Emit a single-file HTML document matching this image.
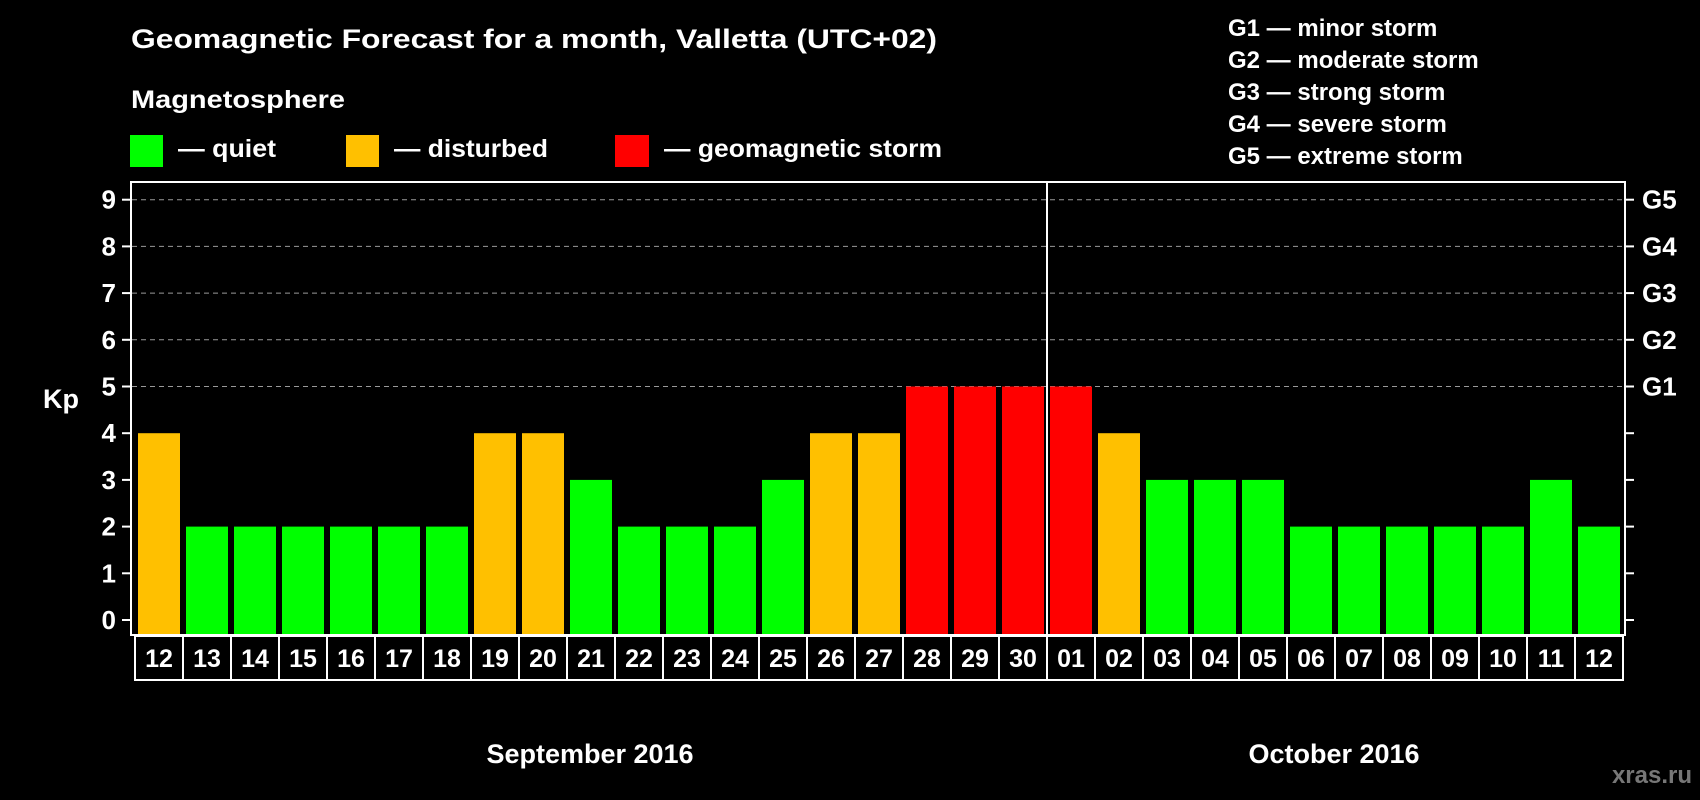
<!DOCTYPE html>
<html><head><meta charset="utf-8"><style>
html,body{margin:0;padding:0;background:#000;}
svg{display:block;font-family:"Liberation Sans",Arial,sans-serif;font-weight:bold;}
</style></head><body>
<svg id="chart" width="1700" height="800" viewBox="0 0 1700 800" xmlns="http://www.w3.org/2000/svg">
<rect width="1700" height="800" fill="#000"/>
<text x="131" y="48" fill="#fff" font-size="27" textLength="806" lengthAdjust="spacingAndGlyphs">Geomagnetic Forecast for a month, Valletta (UTC+02)</text>
<text x="131" y="108" fill="#fff" font-size="25" textLength="214" lengthAdjust="spacingAndGlyphs">Magnetosphere</text>
<g>
<rect x="130" y="135" width="33" height="32" fill="#00ff00"/>
<text x="178" y="157" fill="#fff" font-size="25" textLength="98" lengthAdjust="spacingAndGlyphs">— quiet</text></g>
<g>
<rect x="346" y="135" width="33" height="32" fill="#ffc000"/>
<text x="394" y="157" fill="#fff" font-size="25" textLength="154" lengthAdjust="spacingAndGlyphs">— disturbed</text></g>
<g>
<rect x="615" y="135" width="34" height="32" fill="#ff0000"/>
<text x="664" y="157" fill="#fff" font-size="25" textLength="278" lengthAdjust="spacingAndGlyphs">— geomagnetic storm</text></g>
<g fill="#fff" font-size="24">
<text x="1228" y="36">G1 — minor storm</text>
<text x="1228" y="68">G2 — moderate storm</text>
<text x="1228" y="100">G3 — strong storm</text>
<text x="1228" y="132">G4 — severe storm</text>
<text x="1228" y="164">G5 — extreme storm</text>
</g>
<g id="grid"></g>
<g id="bars"></g>
<rect x="131" y="182" width="1494" height="453" fill="none" stroke="#fff" stroke-width="2"/>
<g id="axes"></g>
<text x="43" y="408" fill="#fff" font-size="27">Kp</text>
<text x="590" y="763" fill="#fff" font-size="27" text-anchor="middle">September 2016</text>
<text x="1334" y="763" fill="#fff" font-size="27" text-anchor="middle">October 2016</text>
<text x="1692" y="783" fill="#777" font-size="24" text-anchor="end">xras.ru</text>
</svg>
<script>
const days = ["12","13","14","15","16","17","18","19","20","21","22","23","24","25","26","27","28","29","30","01","02","03","04","05","06","07","08","09","10","11","12"];
const kp = [4,2,2,2,2,2,2,4,4,3,2,2,2,3,4,4,5,5,5,5,4,3,3,3,2,2,2,2,2,3,2];
const yTicks = [0,1,2,3,4,5,6,7,8,9];
const gLabels = ["G1","G2","G3","G4","G5"];
const monthBreakIndex = 19;

const NS = "http://www.w3.org/2000/svg";
const y0 = 620, unit = 46.7, bottom = 635;
const yScale = v => y0 - v * unit;
const x0 = 138, pitch = 48, bw = 42;
const xScale = i => x0 + i * pitch;
const color = v => v >= 5 ? "#ff0000" : (v >= 4 ? "#ffc000" : "#00ff00");
function mk(tag, attrs, parent){const e=document.createElementNS(NS,tag);for(const k in attrs)e.setAttribute(k,attrs[k]);parent.appendChild(e);return e;}
const grid=document.getElementById("grid"), bars=document.getElementById("bars"), axes=document.getElementById("axes");

yTicks.forEach(v=>{
  const y=yScale(v);
  if(v>=5){
    const l=mk("line",{x1:132,x2:1624,y1:y,y2:y,stroke:"#999","stroke-dasharray":"5,4","stroke-width":1},grid);
    
    
  }
  const t=mk("line",{x1:122,x2:131,y1:y,y2:y,stroke:"#fff","stroke-width":2},axes);
  
  
  const t2=mk("line",{x1:1625,x2:1634,y1:y,y2:y,stroke:"#fff","stroke-width":2},axes);
  
  
  const lb=mk("text",{x:116,y:y+9,fill:"#fff","font-size":26,"text-anchor":"end"},axes);
  lb.textContent=v;
  
  
});
gLabels.forEach((g,i)=>{
  const lb=mk("text",{x:1642,y:yScale(5+i)+9,fill:"#fff","font-size":26},axes);
  lb.textContent=g;
  
  
});
kp.forEach((v,i)=>{
  const x=xScale(i);
  const r=mk("rect",{x:x,y:yScale(v),width:bw,height:bottom-yScale(v),fill:color(v)},bars);
  
  
  const b=mk("rect",{x:x-3,y:636,width:pitch,height:44,fill:"none",stroke:"#fff","stroke-width":2},axes);
  
  
  const t=mk("text",{x:x+bw/2,y:667,fill:"#fff","font-size":25,"text-anchor":"middle"},axes);
  t.textContent=days[i];
  
  
});
const sx=xScale(monthBreakIndex)-3;
const sep=mk("line",{x1:sx,x2:sx,y1:182,y2:635,stroke:"#fff","stroke-width":2},axes);


</script>
</body></html>
